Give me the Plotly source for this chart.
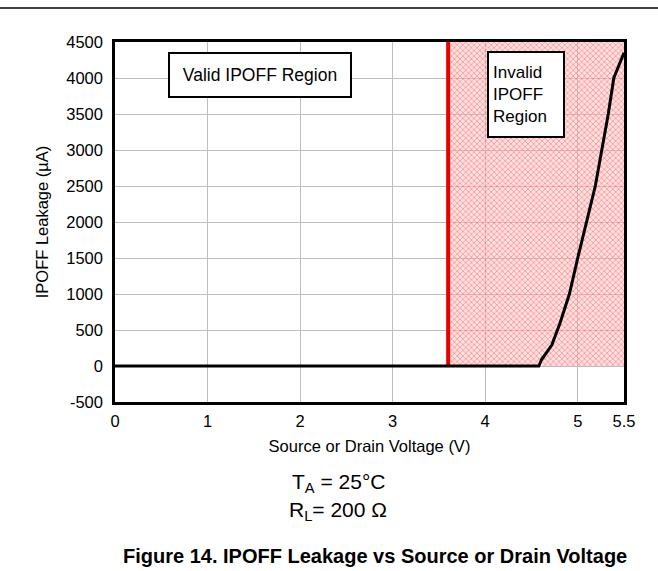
import plotly.graph_objects as go

# Data
voltage = [0, 4.58, 4.61, 4.72, 4.81, 4.91, 5.0, 5.19, 5.33, 5.39, 5.5]
leakage = [0, 0, 90, 290, 600, 1000, 1500, 2500, 3500, 4000, 4350]
x_ticks = [0, 1, 2, 3, 4, 5, 5.5]
x_tick_labels = ["0", "1", "2", "3", "4", "5", "5.5"]
y_ticks = [-500, 0, 500, 1000, 1500, 2000, 2500, 3000, 3500, 4000, 4500]
y_tick_labels = ["-500", "0", "500", "1000", "1500", "2000", "2500", "3000", "3500", "4000", "4500"]
invalid_start = 3.6
x_max = 5.5
y_min = -500
y_max = 4500

W, H = 658, 571
L, R, T, B = 115, 34, 42, 169
pw = W - L - R
ph = H - T - B

def px(xpix):
    return (xpix - L) / pw

def py(ypix):
    return (H - B - ypix) / ph

fig = go.Figure()

# hatched invalid region
fig.add_trace(go.Scatter(
    x=[invalid_start, x_max, x_max, invalid_start, invalid_start],
    y=[0, 0, y_max, y_max, 0],
    fill="toself", mode="lines", line=dict(width=0),
    fillcolor="rgba(255,170,170,0.45)",
    fillpattern=dict(shape="x", fgcolor="rgba(235,0,0,0.85)", size=4, solidity=0.3,
                     bgcolor="rgba(255,195,195,0.5)"),
    hoverinfo="skip", showlegend=False))

# red boundary line
fig.add_trace(go.Scatter(
    x=[invalid_start, invalid_start], y=[0, y_max], mode="lines",
    line=dict(color="#e60000", width=4), showlegend=False, hoverinfo="skip"))

# leakage curve
fig.add_trace(go.Scatter(
    x=voltage, y=leakage, mode="lines",
    line=dict(color="black", width=3), showlegend=False))

font_family = "Liberation Sans, Arial, sans-serif"

fig.update_layout(
    width=W, height=H,
    margin=dict(l=L, r=R, t=T, b=B, autoexpand=False),
    paper_bgcolor="white", plot_bgcolor="white",
    font=dict(family=font_family, color="black", size=16),
    xaxis=dict(range=[0, x_max], tickvals=x_ticks, ticktext=x_tick_labels,
               showgrid=True, gridcolor="#bdbdbd", gridwidth=1, zeroline=False,
               showline=True, linecolor="black", linewidth=2.5, mirror=True,
               ticks="", tickfont=dict(size=16.5), ticklabelstandoff=2,
               title=dict(text="Source or Drain Voltage (V)", font=dict(size=16.5), standoff=12)),
    yaxis=dict(range=[y_min, y_max], tickvals=y_ticks, ticktext=y_tick_labels,
               showgrid=True, gridcolor="#bdbdbd", gridwidth=1, zeroline=False,
               showline=True, linecolor="black", linewidth=2.5, mirror=True,
               ticks="", tickfont=dict(size=16.5), ticklabelstandoff=6,
               title=dict(text="IPOFF Leakage (µA)", font=dict(size=16.5), standoff=14)),
)

# region labels
fig.add_annotation(x=px(260), y=py(75), xref="paper", yref="paper",
                   xanchor="center", yanchor="middle",
                   text="Valid IPOFF Region", showarrow=False,
                   font=dict(size=17.5), bgcolor="white", bordercolor="black",
                   borderwidth=2, borderpad=4, width=172, height=34)
fig.add_annotation(x=px(526), y=py(94), xref="paper", yref="paper",
                   xanchor="center", yanchor="middle",
                   text="Invalid<br>IPOFF<br>Region", showarrow=False, align="left",
                   font=dict(size=17), bgcolor="white", bordercolor="black",
                   borderwidth=2, borderpad=4, width=66, height=75)

# conditions
fig.add_annotation(x=px(338), y=py(483), xref="paper", yref="paper",
                   xanchor="center", yanchor="middle",
                   text="T<sub>A</sub> = 25°C", showarrow=False, font=dict(size=21))
fig.add_annotation(x=px(338), y=py(511), xref="paper", yref="paper",
                   xanchor="center", yanchor="middle",
                   text="R<sub>L</sub>= 200 Ω", showarrow=False, font=dict(size=21))
fig.add_annotation(x=px(375), y=py(556), xref="paper", yref="paper",
                   xanchor="center", yanchor="middle",
                   text="<b>Figure 14. IPOFF Leakage vs Source or Drain Voltage</b>",
                   showarrow=False, font=dict(size=20))

# top rule
fig.add_shape(type="line", xref="paper", yref="paper",
              x0=px(0), x1=px(W), y0=py(8), y1=py(8),
              line=dict(color="black", width=1.5))

fig.write_html("out.html", config={"displayModeBar": False},
               post_script="document.body.style.margin='0';")
